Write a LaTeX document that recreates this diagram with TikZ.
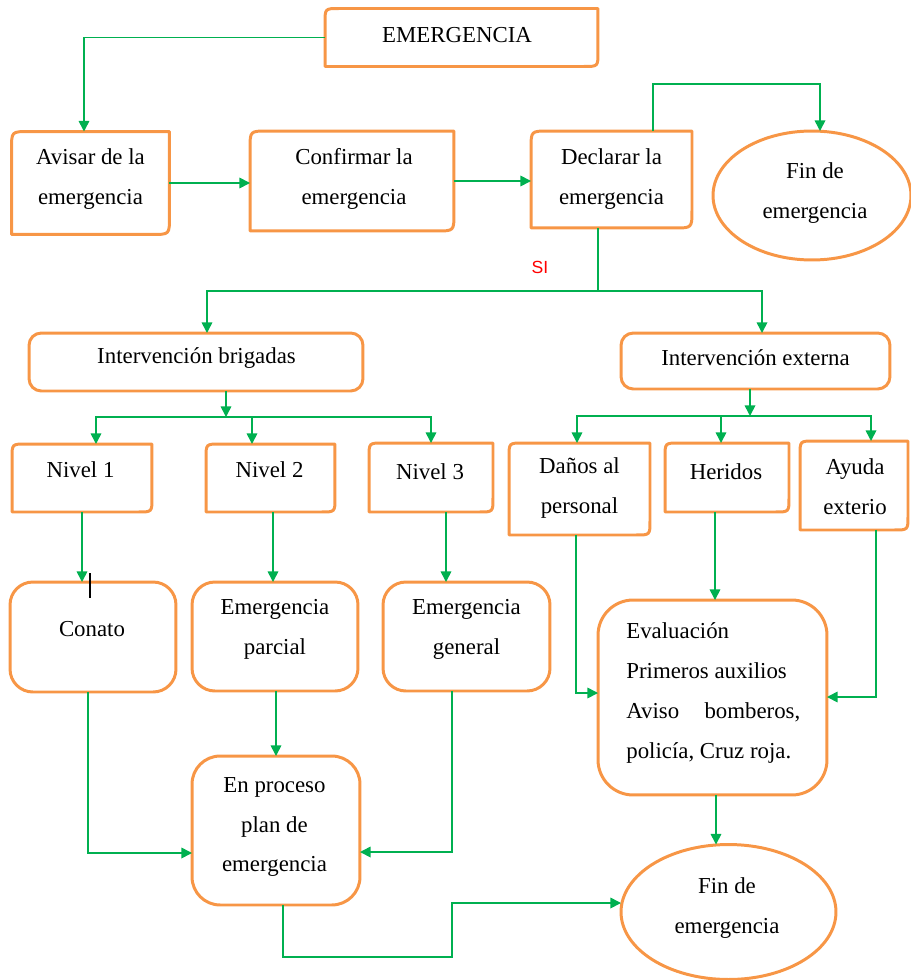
\documentclass[tikz,border=0pt]{standalone}
\usepackage{fontspec}
\setmainfont{Liberation Serif}
\newfontfamily\sisans{Liberation Sans}
\usetikzlibrary{arrows.meta,shapes.geometric}
\definecolor{boxorange}{RGB}{247,150,70}
\definecolor{flowgreen}{RGB}{0,176,80}
\definecolor{sired}{RGB}{255,0,0}

% outline with rounded top-left and bottom-right corners, square elsewhere
\newcommand\diagframe[2][9pt]{%
  \draw[obox] (#2.south west) -- ([yshift=-#1]#2.north west)
    .. controls (#2.north west) .. ([xshift=#1]#2.north west)
    -- (#2.north east) -- ([yshift=#1]#2.south east)
    .. controls (#2.south east) .. ([xshift=-#1]#2.south east) -- cycle;}

\begin{document}
\begin{tikzpicture}[x=0.02cm,y=-0.02cm,
  obox/.style={draw=boxorange,line width=1.7pt,line join=round},
  shell/.style={inner sep=0pt,outer sep=0pt},
  rbox/.style={obox,shell,rounded corners=#1},
  oval/.style={obox,shell,ellipse},
  txt/.style={font=\fontsize{13}{22.7}\selectfont,align=center,inner sep=0pt},
  ln/.style={draw=flowgreen,line width=0.9pt},
  arr/.style={ln,-{Triangle[length=6pt,width=6pt]}},
]
\useasboundingbox (0,0) rectangle (910,980);

% ---------- boxes ----------
\node[shell,minimum width=5.46cm,minimum height=1.16cm] (emerg) at (461.5,37.5) {};
\node[shell,minimum width=3.16cm,minimum height=2.06cm] (avisar) at (90.5,183) {};
\node[shell,minimum width=4.08cm,minimum height=2.00cm] (confirm) at (352,181) {};
\node[shell,minimum width=3.22cm,minimum height=1.94cm] (decl) at (611.5,179.5) {};
\node[oval,minimum width=3.96cm,minimum height=2.58cm] (fin1) at (812,195.5) {};

\node[rbox=7pt,minimum width=6.68cm,minimum height=1.16cm] (intb) at (196,362) {};
\node[rbox=7pt,minimum width=5.38cm,minimum height=1.12cm] (inte) at (755.5,361) {};

\node[shell,minimum width=2.80cm,minimum height=1.36cm] (n1) at (82,478) {};
\node[shell,minimum width=2.58cm,minimum height=1.36cm] (n2) at (270.5,478) {};
\node[shell,minimum width=2.48cm,minimum height=1.38cm] (n3) at (431,477.5) {};
\node[shell,minimum width=2.82cm,minimum height=1.84cm] (dan) at (579.5,489) {};
\node[shell,minimum width=2.48cm,minimum height=1.38cm] (her) at (727,477.5) {};
\node[shell,minimum width=2.16cm,minimum height=1.78cm] (ayu) at (854,485.5) {};

\node[rbox=13pt,minimum width=3.32cm,minimum height=2.20cm] (conato) at (93,637) {};
\node[rbox=13pt,minimum width=3.32cm,minimum height=2.18cm] (parcial) at (275,636.5) {};
\node[rbox=13pt,minimum width=3.34cm,minimum height=2.18cm] (general) at (466.5,636.5) {};
\node[rbox=20pt,minimum width=4.58cm,minimum height=3.90cm] (eval) at (712.5,697.5) {};
\node[rbox=16pt,minimum width=3.36cm,minimum height=2.98cm] (proc) at (276,830.5) {};
\node[oval,minimum width=4.30cm,minimum height=2.70cm] (fin2) at (728.5,912) {};

\diagframe[8pt]{emerg}
\diagframe[10pt]{avisar}
\diagframe[10pt]{confirm}
\diagframe[10pt]{decl}
\diagframe[8pt]{n1}
\diagframe[8pt]{n2}
\diagframe[8pt]{n3}
\diagframe[8pt]{dan}
\diagframe[8pt]{her}
\diagframe[8pt]{ayu}

% ---------- texts ----------
\node[txt] (emerg-t) at (457,35) {EMERGENCIA};
\node[txt] (avisar-t) at (90.5,179) {Avisar de la\\emergencia};
\node[txt] (confirm-t) at (354,179) {Confirmar la\\emergencia};
\node[txt] (decl-t) at (611.5,179) {Declarar la\\emergencia};
\node[txt] (fin1-t) at (815,193) {Fin de\\emergencia};
\node[font=\sisans\fontsize{10}{12}\selectfont,text=sired,inner sep=0pt] (si) at (540,267) {SI};
\node[txt] (intb-t) at (196.5,358) {Intervención brigadas};
\node[txt] (inte-t) at (755.5,358) {Intervención externa};
\node[txt] (n1-t) at (80.5,470) {Nivel 1};
\node[txt] (n2-t) at (269.5,470) {Nivel 2};
\node[txt] (n3-t) at (430,472) {Nivel 3};
\node[txt] (dan-t) at (579.5,488) {Daños al\\personal};
\node[txt] (her-t) at (726,472) {Heridos};
\node[txt] (ayu-t) at (855,487) {Ayuda\\exterio};
\node[txt] (conato-t) at (92,629) {Conato};
\node[txt] (parcial-t) at (275,629.5) {Emergencia\\parcial};
\node[txt] (general-t) at (466.5,629.5) {Emergencia\\general};
\node[txt,align=left,anchor=west] (eval-t) at (626,693)
  {Evaluación\\Primeros auxilios\\\makebox[3.48cm][s]{Aviso\hfill bomberos,}\\policía, Cruz roja.};
\node[txt] (proc-t) at (274.5,827) {En proceso\\plan de\\emergencia};
\node[txt] (fin2-t) at (727,908) {Fin de\\emergencia};

% stray cursor mark above Conato
\draw[black,line width=0.8pt] (90,573) -- (90,598);

% ---------- connectors ----------
\draw[arr] (emerg.west) -| (avisar.north -| 84,0);
\draw[arr] (avisar.east) -- (avisar.east -| confirm.west);
\draw[arr] (confirm.east) -- (confirm.east -| decl.west);
\coordinate (finturn) at (653,84);
\draw[arr] (decl.north -| 653,0) -- (finturn) -| (fin1.north -| 820,0);

\coordinate (split) at (598,291);
\draw[ln] (decl.south -| 598,0) -- (split);
\draw[arr] (split) -| (intb.north -| 207,0);
\draw[arr] (split) -| (inte.north -| 762,0);

\coordinate (bsplit) at (226,417);
\draw[arr] (intb.south -| 226,0) -- (bsplit);
\draw[arr] (bsplit) -| (n1.north -| 96,0);
\draw[arr] (bsplit) -| (n2.north -| 252,0);
\draw[arr] (bsplit) -| (n3.north -| 431,0);

\coordinate (esplit) at (750,416);
\draw[arr] (inte.south -| 750,0) -- (esplit);
\draw[arr] (esplit) -| (dan.north -| 577,0);
\draw[arr] (esplit) -| (her.north -| 721,0);
\draw[arr] (esplit) -| (ayu.north -| 871,0);

\draw[arr] (n1.south -| 82,0) -- (conato.north -| 82,0);
\draw[arr] (n2.south -| 273,0) -- (parcial.north -| 273,0);
\draw[arr] (n3.south -| 446,0) -- (general.north -| 446,0);

\draw[arr] (dan.south -| 576,0) |- (eval.west |- 0,693);
\draw[arr] (her.south -| 715,0) -- (eval.north -| 715,0);
\draw[arr] (ayu.south -| 876,0) |- (eval.east |- 0,697);
\draw[arr] (eval.south -| 716,0) -- (fin2.north -| 716,0);

\draw[arr] (conato.south -| 88,0) |- (proc.west |- 0,853);
\draw[arr] (parcial.south -| 276,0) -- (proc.north -| 276,0);
\draw[arr] (general.south -| 452,0) |- (proc.east |- 0,852);

\coordinate (pdown) at (283,957);
\coordinate (pup) at (452,957);
\draw[arr] (proc.south -| 283,0) -- (pdown) -- (pup) |- (fin2.west |- 0,903);
\end{tikzpicture}
\end{document}
